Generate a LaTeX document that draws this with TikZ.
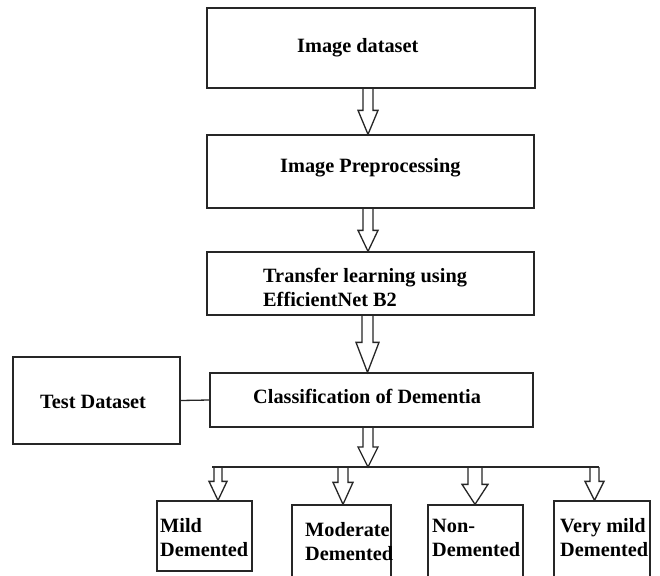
\documentclass[tikz,border=0pt]{standalone}
\usepackage{fontspec}
\setmainfont{Liberation Serif}
\usetikzlibrary{calc}
\tikzset{
  box/.style={draw=black!85, line width=1.3pt, rectangle, inner sep=0pt, fill=white},
  txt/.style={anchor=west, align=left, inner sep=0pt, text=black,
              font=\bfseries\fontsize{20.3}{24}\selectfont},
  arrowline/.style={draw=black!85, line width=1.3pt, line join=miter},
  conn/.style={draw=black!85, line width=1.3pt}
}
% #1 start, #2 target (tip y), #3 half shaft, #4 half head, #5 head length
\newcommand\hollowarrow[5]{%
  \draw[arrowline] let \p1=(#1), \p2=(#2) in
    (\x1-#3,\y1) -- (\x1-#3,\y2+#5) -- (\x1-#4,\y2+#5) -- (\x1,\y2)
    -- (\x1+#4,\y2+#5) -- (\x1+#3,\y2+#5) -- (\x1+#3,\y1);}
\begin{document}
\begin{tikzpicture}[x=1pt,y=-1pt]
\useasboundingbox (0,0) rectangle (660,575);
\clip (0,0) rectangle (660,575);
\fill[white] (0,0) rectangle (660,575);

% boxes
\node[box, minimum width=328pt, minimum height=80pt] (b1) at (371,48) {};
\node[box, minimum width=327pt, minimum height=73pt] (b2) at (370.5,171.5) {};
\node[box, minimum width=327pt, minimum height=63pt] (b3) at (370.5,283.5) {};
\node[box, minimum width=323pt, minimum height=54pt] (b4) at (371.5,400) {};
\node[box, minimum width=167pt, minimum height=87pt] (test) at (96.5,400.5) {};
\node[box, minimum width=95pt, minimum height=70pt] (mild) at (204.5,536) {};
\node[box, minimum width=99pt, minimum height=72pt] (mod) at (341.5,541) {};
\node[box, minimum width=95pt, minimum height=72pt] (non) at (475.5,541) {};
\node[box, minimum width=96pt, minimum height=76pt] (vmild) at (602,539) {};

% texts
\node[txt] (t1) at (297,48) {Image dataset};
\node[txt] (t2) at (280,168) {Image Preprocessing};
\node[txt] (t3) at (263,287) {Transfer learning using\\EfficientNet B2};
\node[txt] (t4) at (253,396) {Classification of Dementia};
\node[txt] (tt) at (40,402) {Test Dataset};
\node[txt] (tmild) at (160,538) {Mild\\Demented};
\node[txt] (tmod) at (305,542) {Moderate\\Demented};
\node[txt] (tnon) at (432,538) {Non-\\Demented};
\node[txt] (tvmild) at (560,538) {Very mild\\Demented};

% main arrows
\coordinate (s1) at ($(b1.south)+(-3,0)$);
\coordinate (s2) at ($(b2.south)+(-2.5,0)$);
\coordinate (s3) at ($(b3.south)+(-3,0)$);
\coordinate (s4) at ($(b4.south)+(-3.5,0)$);
\hollowarrow{s1}{b2.north}{5pt}{10pt}{24pt}
\hollowarrow{s2}{b3.north}{5pt}{10pt}{21pt}
\hollowarrow{s3}{b4.north}{5.5pt}{11.5pt}{30pt}

% bar
\coordinate (barL) at (212,467);
\coordinate (barR) at (599,467);
\hollowarrow{s4}{barR}{5pt}{10pt}{20pt}
\draw[conn] (barL) -- (barR);

% test connector
\draw[conn] (test.east) -- (b4.west);

% small arrows
\coordinate (m1) at (218,467);
\coordinate (m2) at (343,467);
\coordinate (m3) at (475,467);
\coordinate (m4) at (594.5,467);
\hollowarrow{m1}{mild.north}{4pt}{9pt}{19pt}
\hollowarrow{m2}{mod.north}{5pt}{10pt}{22pt}
\hollowarrow{m3}{non.north}{7pt}{13pt}{20pt}
\hollowarrow{m4}{vmild.north}{4.5pt}{9.5pt}{19pt}
\end{tikzpicture}
\end{document}
